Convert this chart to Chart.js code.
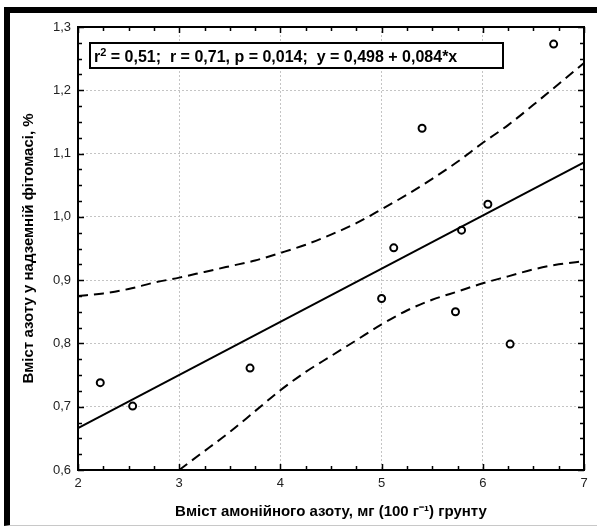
<!DOCTYPE html>
<html>
<head>
<meta charset="utf-8">
<script src="https://cdn.jsdelivr.net/npm/chart.js@4.4.1/dist/chart.umd.min.js"></script>
<style>
  html, body { margin: 0; padding: 0; background: #fff; }
  #wrap { position: relative; width: 597px; height: 528px; }
  #frame {
    position: absolute; left: 4px; top: 7px; width: 593px; height: 519px;
    box-sizing: border-box;
    border-top: 6px solid #000; border-left: 6px solid #000;
    border-bottom: 1px solid #c8c8c8;
  }
  #chart { position: absolute; left: 0; top: 0; }
</style>
</head>
<body>
<div id="wrap">
  <div id="frame"></div>
  <canvas id="chart" width="597" height="528"></canvas>
</div>
<script>
// observed points
const ammoniumN = [2.22, 2.54, 3.70, 5.00, 5.12, 5.40, 5.73, 5.79, 6.05, 6.27, 6.70];
const plantN    = [0.738, 0.701, 0.761, 0.871, 0.951, 1.140, 0.850, 0.979, 1.020, 0.799, 1.273];

// regression line y = 0.498 + 0.084*x (end points)
const fitX = [2, 7];
const fitY = [0.666, 1.086];

// 95% confidence band
const upperX = [2, 2.25, 2.5, 2.75, 3, 3.25, 3.5, 3.75, 4, 4.25, 4.5, 4.75, 5, 5.25, 5.5, 5.75, 6, 6.25, 6.5, 6.75, 7];
const upperY = [0.875, 0.879, 0.886, 0.896, 0.904, 0.913, 0.922, 0.931, 0.943, 0.956, 0.972, 0.990, 1.012, 1.035, 1.060, 1.087, 1.117, 1.145, 1.177, 1.210, 1.243];
const lowerX = [3, 3.2, 3.5, 3.75, 4, 4.25, 4.5, 4.75, 5, 5.25, 5.5, 5.75, 6, 6.25, 6.5, 6.75, 7];
const lowerY = [0.600, 0.624, 0.660, 0.693, 0.726, 0.755, 0.780, 0.805, 0.830, 0.852, 0.869, 0.882, 0.895, 0.906, 0.917, 0.925, 0.930];

const xTickValues = [2, 3, 4, 5, 6, 7];
const yTickValues = [0.6, 0.7, 0.8, 0.9, 1.0, 1.1, 1.2, 1.3];
const statsText = ['r', '2', ' = 0,51;  r = 0,71, p = 0,014;  y = 0,498 + 0,084*x'];

const xTitle = 'Вміст амонійного азоту, мг (100 г⁻¹) грунту';
const yTitle = 'Вміст азоту у надземній фітомасі, %';

const FONT = '"Liberation Sans", Arial, sans-serif';

function pts(xs, ys) {
    return xs.map((x, i) => ({x: x, y: ys[i]}));
}

// frame, inside ticks and the stats box
const decor = {
    id: 'decor',
    afterDatasetsDraw(chart) {
        const ctx = chart.ctx;
        const a = chart.chartArea;
        const xs = chart.scales.x, ys = chart.scales.y;
        ctx.save();
        ctx.strokeStyle = '#000';
        ctx.lineWidth = 1.5;
        ctx.beginPath();
        for (let v = 2; v <= 7.0001; v += 0.25) {
            const px = Math.round(xs.getPixelForValue(v)) + 0.5;
            const len = Math.abs(v - Math.round(v)) < 1e-6 ? 6 : 4;
            ctx.moveTo(px, a.bottom); ctx.lineTo(px, a.bottom - len);
            ctx.moveTo(px, a.top); ctx.lineTo(px, a.top + len);
        }
        for (let i = 0; i <= 28; i++) {
            const v = 0.6 + i * 0.025;
            const py = Math.round(ys.getPixelForValue(v)) + 0.5;
            const len = i % 4 === 0 ? 6 : 4;
            ctx.moveTo(a.left, py); ctx.lineTo(a.left + len, py);
            ctx.moveTo(a.right, py); ctx.lineTo(a.right - len, py);
        }
        ctx.stroke();

        ctx.lineWidth = 2;
        ctx.strokeRect(a.left, a.top, a.right - a.left, a.bottom - a.top);

        // stats box
        const bx = a.left + 12, by = a.top + 16, bw = 413, bh = 25;
        ctx.fillStyle = '#fff';
        ctx.fillRect(bx, by, bw, bh);
        ctx.lineWidth = 2;
        ctx.strokeRect(bx, by, bw, bh);
        ctx.fillStyle = '#000';
        ctx.textBaseline = 'alphabetic';
        ctx.font = 'bold 16px ' + FONT;
        let tx = bx + 4;
        const ty = by + 19;
        ctx.fillText(statsText[0], tx, ty);
        tx += ctx.measureText(statsText[0]).width;
        ctx.font = 'bold 11px ' + FONT;
        ctx.fillText(statsText[1], tx, ty - 6);
        tx += ctx.measureText(statsText[1]).width;
        ctx.font = 'bold 16px ' + FONT;
        ctx.fillText(statsText[2], tx, ty);
        ctx.restore();
    }
};

new Chart(document.getElementById('chart'), {
    type: 'scatter',
    data: {
        datasets: [
            {
                data: pts(upperX, upperY),
                showLine: true,
                borderColor: '#000',
                borderWidth: 2,
                borderDash: [10, 6],
                pointRadius: 0,
                cubicInterpolationMode: 'monotone'
            },
            {
                data: pts(lowerX, lowerY),
                showLine: true,
                borderColor: '#000',
                borderWidth: 2,
                borderDash: [10, 6],
                pointRadius: 0,
                cubicInterpolationMode: 'monotone'
            },
            {
                data: pts(fitX, fitY),
                showLine: true,
                borderColor: '#000',
                borderWidth: 2,
                pointRadius: 0
            },
            {
                data: pts(ammoniumN, plantN),
                pointRadius: 3.5,
                pointBorderWidth: 2,
                pointBorderColor: '#000',
                pointBackgroundColor: '#fff'
            }
        ]
    },
    options: {
        responsive: false,
        animation: false,
        events: [],
        layout: { padding: { top: 27, right: 13, left: 0, bottom: 0 } },
        plugins: {
            legend: { display: false },
            tooltip: { enabled: false }
        },
        scales: {
            x: {
                type: 'linear',
                min: 2,
                max: 7,
                afterBuildTicks: s => { s.ticks = xTickValues.map(v => ({value: v})); },
                afterFit: s => { s.height = 58; },
                grid: { color: '#c4c4c4', lineWidth: 1, drawTicks: false },
                border: { display: false, dash: [2, 2] },
                ticks: {
                    padding: 6,
                    color: '#222',
                    font: { family: FONT, size: 13 },
                    maxRotation: 0
                },
                title: {
                    display: true,
                    text: xTitle,
                    color: '#000',
                    font: { family: FONT, size: 15, weight: 'bold' },
                    padding: { top: 0, bottom: 7 }
                }
            },
            y: {
                type: 'linear',
                min: 0.6,
                max: 1.3,
                afterBuildTicks: s => { s.ticks = yTickValues.map(v => ({value: v})); },
                afterFit: s => { s.width = 78; },
                grid: { color: '#c4c4c4', lineWidth: 1, drawTicks: false },
                border: { display: false, dash: [2, 2] },
                ticks: {
                    padding: 7,
                    color: '#222',
                    font: { family: FONT, size: 13 },
                    callback: v => v.toFixed(1).replace('.', ',')
                },
                title: {
                    display: true,
                    text: yTitle,
                    color: '#000',
                    font: { family: FONT, size: 15, weight: 'bold' },
                    padding: { top: 20, bottom: 0 }
                }
            }
        }
    },
    plugins: [decor]
});
</script>
</body>
</html>
